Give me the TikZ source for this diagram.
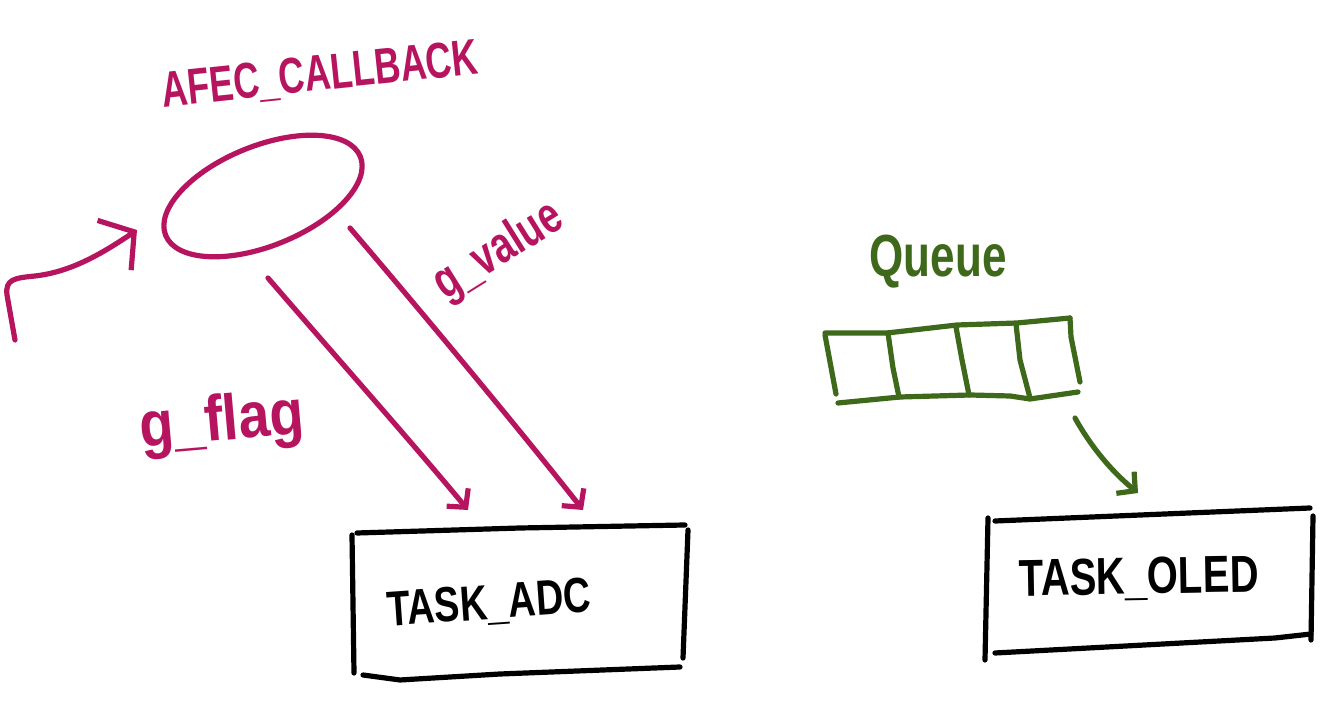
\documentclass[tikz,border=0pt]{standalone}
\usepackage{fontspec}
\setmainfont{Liberation Sans}
\usetikzlibrary{arrows.meta,shapes.geometric}
\definecolor{mag}{RGB}{183,20,95}
\definecolor{grn}{RGB}{62,104,26}
\begin{document}
\begin{tikzpicture}[x=0.5pt,y=-0.5pt,line cap=round,line join=round,
  stroke/.style={line width=2.6pt},
  magline/.style={stroke,draw=mag},
  grnline/.style={stroke,draw=grn},
  blkline/.style={stroke,draw=black},
  barb/.style={-{Straight Barb[length=6.5pt,width=14pt]}},
  bigbarb/.style={-{Straight Barb[length=12pt,width=30pt]}},
  lbl/.style={inner sep=0pt,font=\bfseries\fontsize{#1}{#1}\selectfont},
  maglbl/.style={lbl=#1,text=mag},
  grnlbl/.style={lbl=#1,text=grn},
  blklbl/.style={lbl=#1,text=black}]
\fill[white] (0,0) rectangle (1344,704);
\useasboundingbox (0,0) rectangle (1344,704);

% --- callback ---
\node[maglbl=18,rotate=6,yscale=1.4] (title) at (320,76) {AFEC\_CALLBACK};
\node[ellipse,magline,rotate=22,minimum width=105pt,minimum height=50pt,inner sep=0pt] (cb) at (263,196) {};

\coordinate (in0) at (15,340);
\coordinate (in1) at (137,230);
\draw[magline,bigbarb] (in0) -- (7,295) .. controls (5,279) and (15,278) .. (35,276)
   .. controls (70,272) and (100,255) .. (in1);

\coordinate (f0) at (268,278);
\coordinate (f1) at (468,510);
\coordinate (v0) at (350,228);
\coordinate (v1) at (583,510);
\draw[magline,barb] (f0) .. controls (330,350) and (410,440) .. (f1);
\draw[magline,barb] (v0) .. controls (420,310) and (520,430) .. (v1);

\node[maglbl=28,rotate=5,yscale=1.15] (gflag) at (222,424) {g\_flag};
\node[maglbl=19,rotate=32,yscale=1.35] (gvalue) at (499,252) {g\_value};

% --- TASK_ADC ---
\node[blklbl=19,rotate=4,yscale=1.3] (adc) at (489,605) {TASK\_ADC};
\draw[blkline] (357,533) -- (520,528) -- (685,525);
\draw[blkline] (352,535) -- (354,673);
\draw[blkline] (688,530) -- (683,658);
\draw[blkline] (363,675) -- (400,680) -- (500,674) -- (680,667);

% --- queue ---
\node[grnlbl=22,yscale=1.35] (qlbl) at (938,262) {Queue};
\draw[grnline] (825,333) -- (887,333) -- (957,325) -- (1017,323) -- (1070,318);
\draw[grnline] (825,335) -- (836,394);
\draw[grnline] (1070,318) -- (1071,337) -- (1080,382);
\draw[grnline] (838,403) -- (900,397) -- (970,395) -- (1010,396) -- (1030,399) -- (1078,392);
\draw[grnline] (888,333) -- (893,368) -- (899,397);
\draw[grnline] (956,327) -- (962,360) -- (969,395);
\draw[grnline] (1016,324) -- (1020,360) -- (1030,398);
\coordinate (q0) at (1075,418);
\coordinate (q1) at (1138,493);
\draw[grnline,barb] (q0) .. controls (1090,445) and (1110,470) .. (q1);

% --- TASK_OLED ---
\node[blklbl=20,rotate=1,yscale=1.3] (oled) at (1139,579) {TASK\_OLED};
\draw[blkline] (995,521) -- (1310,508);
\draw[blkline] (988,518) -- (985,660);
\draw[blkline] (1313,516) -- (1311,640);
\draw[blkline] (995,653) -- (1275,638) -- (1311,634);
\end{tikzpicture}
\end{document}
